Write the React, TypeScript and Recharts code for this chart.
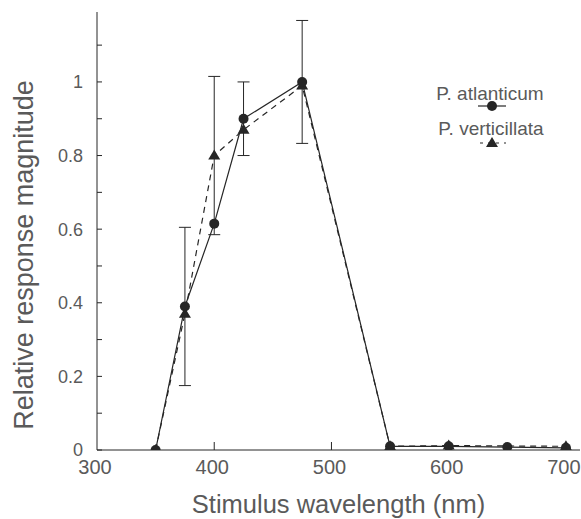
import React from 'react';
import { LineChart, Line, XAxis, YAxis, ErrorBar, Legend, Label } from 'recharts';

const wavelengths = [350, 375, 400, 425, 475, 550, 600, 650, 700];
const atlanticum = [0, 0.39, 0.615, 0.9, 1.0, 0.01, 0.01, 0.008, 0.006];
const atlanticumErr = [null, 0.215, null, 0.1, 0.167, null, null, null, null];
const verticillata = [0, 0.37, 0.8, 0.87, 0.99, 0.01, 0.012, null, 0.01];
const verticillataErr = [null, null, 0.215, null, null, null, null, null, null];
const xTicks = [300, 400, 500, 600, 700];
const yTicks = [0, 0.1, 0.2, 0.3, 0.4, 0.5, 0.6, 0.7, 0.8, 0.9, 1.0, 1.1];
const yTickLabels: Record<string, string> = { '0': '0', '0.2': '0.2', '0.4': '0.4', '0.6': '0.6', '0.8': '0.8', '1': '1' };

const data = wavelengths.map((w, i) => ({
  w,
  atl: atlanticum[i],
  atlErr: atlanticumErr[i],
  ver: verticillata[i],
  verErr: verticillataErr[i],
}));

const FONT = '"Liberation Sans", Arial, Helvetica, sans-serif';
const INK = '#262626';
const TEXT = '#5a5a5a';

const YTick = (props: any) => {
  const { x, y, payload } = props;
  const key = String(Math.round(payload.value * 10) / 10);
  const label = yTickLabels[key];
  return (
    <g>
      <line x1={x} x2={x + 5} y1={y} y2={y} stroke={INK} strokeWidth={1} />
      {label !== undefined && (
        <text x={x - 14} y={y} dy="0.36em" textAnchor="end" fontSize={18} fontFamily={FONT} fill={TEXT}>
          {label}
        </text>
      )}
    </g>
  );
};

const XTick = (props: any) => {
  const { x, y, payload } = props;
  return (
    <g>
      {payload.value !== 300 && <line x1={x} x2={x} y1={y} y2={y - 8} stroke={INK} strokeWidth={1} />}
      <text x={x - 2} y={y + 24} textAnchor="middle" fontSize={20} fontFamily={FONT} fill={TEXT}>
        {payload.value}
      </text>
    </g>
  );
};

const Triangle = (props: any) => {
  const { cx, cy, index } = props;
  if (cx == null || cy == null) return <g key={`t${index}`} />;
  return (
    <polygon
      key={`t${index}`}
      points={`${cx},${cy - 6} ${cx - 6},${cy + 4} ${cx + 6},${cy + 4}`}
      fill={INK}
    />
  );
};

const Circle = (props: any) => {
  const { cx, cy, index } = props;
  if (cx == null || cy == null) return <g key={`c${index}`} />;
  return <circle key={`c${index}`} cx={cx} cy={cy} r={5} fill={INK} />;
};

const renderLegend = () => (
  <svg width={140} height={80}>
    <text x={70} y={28} textAnchor="middle" fontSize={19} fontFamily={FONT} fill={TEXT}>P. atlanticum</text>
    <line x1={58} x2={86} y1={34} y2={34} stroke={INK} strokeWidth={1.2} />
    <circle cx={72} cy={34} r={5} fill={INK} />
    <text x={71} y={63} textAnchor="middle" fontSize={19} fontFamily={FONT} fill={TEXT}>P. verticillata</text>
    <line x1={60} x2={86} y1={71} y2={71} stroke={INK} strokeWidth={1.2} strokeDasharray="3 5" />
    <polygon points="72,65 66,75 78,75" fill={INK} />
  </svg>
);

export default function App() {
  return (
    <div style={{ position: 'absolute', left: 0, top: 0, background: '#fff' }}>
      <LineChart width={581} height={519} data={data} margin={{ top: 12, right: 1, left: 0, bottom: 0 }}>
        <XAxis
          dataKey="w"
          type="number"
          domain={[300, 712]}
          ticks={xTicks}
          tick={<XTick />}
          tickSize={0}
          tickMargin={0}
          tickLine={false}
          height={69}
          stroke={INK}
          interval={0}
          allowDataOverflow
        >
          <Label
            value="Stimulus wavelength (nm)"
            position="insideBottom"
            offset={6}
            fontSize={25.5}
            fontFamily={FONT}
            fill={TEXT}
          />
        </XAxis>
        <YAxis
          type="number"
          domain={[0, 1.19]}
          ticks={yTicks}
          tick={<YTick />}
          tickSize={0}
          tickMargin={0}
          tickLine={false}
          width={97}
          stroke={INK}
          interval={0}
          allowDataOverflow
        >
          <Label
            content={(p: any) => {
              const vb = p.viewBox;
              const cx = 33;
              const cy = vb.y + vb.height / 2 + 24;
              return (
                <text
                  x={cx}
                  y={cy}
                  transform={`rotate(-90, ${cx}, ${cy})`}
                  textAnchor="middle"
                  fontSize={27}
                  fontFamily={FONT}
                  fill={TEXT}
                >
                  Relative response magnitude
                </text>
              );
            }}
          />
        </YAxis>
        <Legend
          content={renderLegend}
          layout="horizontal"
          verticalAlign="middle"
          align="center"
          wrapperStyle={{ position: 'absolute', left: 420, top: 72, width: 140, height: 80 }}
        />
        <Line
          dataKey="ver"
          name="P. verticillata"
          stroke={INK}
          strokeWidth={1.2}
          strokeDasharray="6 5"
          dot={<Triangle />}
          activeDot={false}
          connectNulls
          isAnimationActive={false}
        >
          <ErrorBar dataKey="verErr" width={6} stroke={INK} strokeWidth={1} direction="y" />
        </Line>
        <Line
          dataKey="atl"
          name="P. atlanticum"
          stroke={INK}
          strokeWidth={1.2}
          dot={<Circle />}
          activeDot={false}
          isAnimationActive={false}
        >
          <ErrorBar dataKey="atlErr" width={6} stroke={INK} strokeWidth={1} direction="y" />
        </Line>
      </LineChart>
    </div>
  );
}
